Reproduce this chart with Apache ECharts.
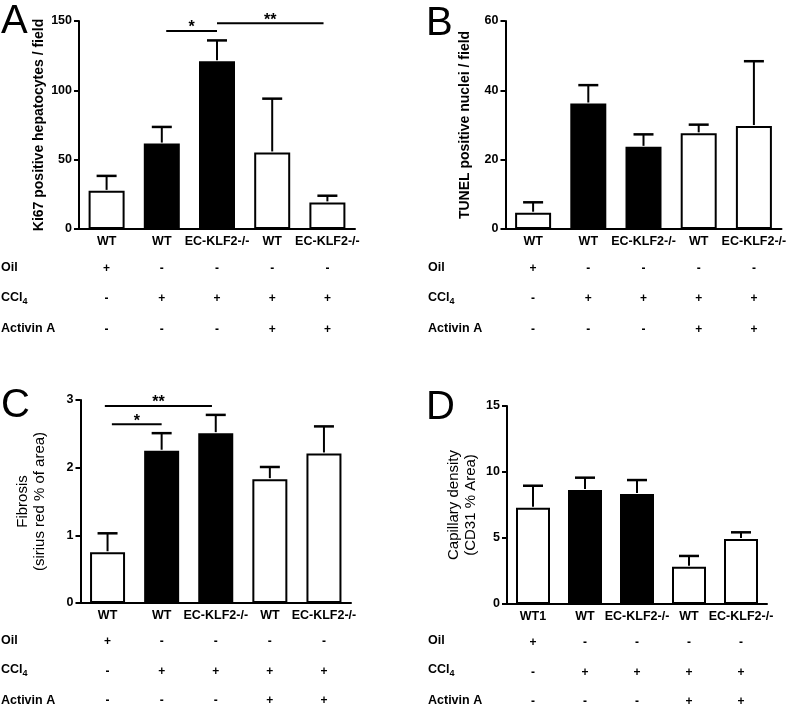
<!DOCTYPE html>
<html><head><meta charset="utf-8">
<script src="https://cdn.jsdelivr.net/npm/echarts@6/dist/echarts.min.js"></script>
<style>html,body{margin:0;padding:0;background:#fff}#c{width:796px;height:711px}</style>
</head><body><div id="c"></div>
<script>
// ---- data ----
const catsABC = ['WT', 'WT', 'EC-KLF2-/-', 'WT', 'EC-KLF2-/-'];
const catsD = ['WT1', 'WT', 'EC-KLF2-/-', 'WT', 'EC-KLF2-/-'];
const rowNames = ['Oil', 'CCl4', 'Activin A'];
const oilRow = ['+', '-', '-', '-', '-'];
const cclRow = ['-', '+', '+', '+', '+'];
const actRow = ['-', '-', '-', '+', '+'];
const ki67Mean = [27.5, 61.6, 121, 55.2, 19.2];
const ki67Err = [10.8, 12, 15, 38.8, 4.8];
const tunelMean = [4.7, 36.2, 23.7, 27.6, 29.7];
const tunelErr = [3.0, 5.3, 3.6, 2.5, 18.7];
const fibMean = [0.75, 2.25, 2.51, 1.83, 2.21];
const fibErr = [0.28, 0.26, 0.27, 0.18, 0.40];
const capMean = [7.3, 8.64, 8.33, 2.83, 4.92];
const capErr = [1.66, 0.93, 1.06, 0.81, 0.51];
// significance brackets: [from category position, to category position, y value, mark]
const sigA = [[1.08, 2.0, 142.8, '*'], [2.0, 3.93, 148.3, '**']];
const sigC = [[-0.05, 1.93, 2.91, '**'], [0.08, 1.0, 2.64, '*']];

// ---- styling ----
const FONT = '"Liberation Sans", Arial, Helvetica, sans-serif';
const fills = ['#ffffff', '#000000', '#000000', '#ffffff', '#ffffff'];

const panels = [
  { letter: 'A', lx: 1, ly: 2, cats: catsABC, mean: ki67Mean, err: ki67Err, sig: sigA,
    grid: { left: 79, top: 21, width: 276, height: 208 }, max: 150, interval: 50,
    name: 'Ki67 positive hepatocytes / field', nameWeight: 'bold', nameSize: 14, nameLH: 16, nameGap: 31,
    barWidth: 36, rowLH: 30.5, rowX: 1, rowY: [268, 298, 329] },
  { letter: 'B', lx: 426, ly: 4, cats: catsABC, mean: tunelMean, err: tunelErr, sig: [],
    grid: { left: 505.5, top: 21, width: 276, height: 208 }, max: 60, interval: 20,
    name: 'TUNEL positive nuclei / field', nameWeight: 'bold', nameSize: 14, nameLH: 16, nameGap: 32,
    barWidth: 36, rowLH: 30.5, rowX: 428, rowY: [268, 298, 329] },
  { letter: 'C', lx: 1, ly: 386, cats: catsABC, mean: fibMean, err: fibErr, sig: sigC,
    grid: { left: 80.5, top: 400, width: 270.5, height: 203 }, max: 3, interval: 1,
    name: 'Fibrosis\n(sirius red % of area)', nameWeight: 'normal', nameSize: 15, nameLH: 17, nameGap: 32,
    barWidth: 35, rowLH: 29.5, rowX: 1, rowY: [641, 670, 701] },
  { letter: 'D', lx: 426, ly: 388, cats: catsD, mean: capMean, err: capErr, sig: [],
    grid: { left: 507, top: 406, width: 260, height: 198 }, max: 15, interval: 5,
    name: 'Capillary density\n(CD31 % Area)', nameWeight: 'normal', nameSize: 15, nameLH: 17, nameGap: 28,
    barWidth: 34, rowLH: 29.5, rowX: 428, rowY: [641, 670, 701] }
];

const grids = [], xAxes = [], yAxes = [], series = [], graphics = [];

panels.forEach((p, k) => {
  grids.push(Object.assign({ containLabel: false }, p.grid));
  xAxes.push({
    type: 'category', gridIndex: k, data: p.cats,
    axisLine: { lineStyle: { color: '#000', width: 2 } },
    axisTick: { show: false },
    axisLabel: {
      interval: 0, hideOverlap: false, margin: 2, color: '#000',
      formatter: (v, i) => `{n|${v}}\n{s|${oilRow[i]}}\n{s|${cclRow[i]}}\n{s|${actRow[i]}}`,
      rich: {
        n: { fontFamily: FONT, fontSize: 12.5, fontWeight: 'bold', lineHeight: 22, color: '#000' },
        s: { fontFamily: FONT, fontSize: 12, fontWeight: 'bold', lineHeight: p.rowLH, color: '#000' }
      }
    }
  });
  yAxes.push({
    type: 'value', gridIndex: k, min: 0, max: p.max, interval: p.interval,
    axisLine: { show: true, lineStyle: { color: '#000', width: 2 } },
    axisTick: { show: true, length: 5, lineStyle: { color: '#000', width: 2 } },
    splitLine: { show: false },
    axisLabel: { fontFamily: FONT, fontSize: 12.5, fontWeight: 'bold', color: '#000', margin: 7 },
    name: p.name, nameLocation: 'middle', nameGap: p.nameGap,
    nameTextStyle: { fontFamily: FONT, fontSize: p.nameSize, fontWeight: p.nameWeight, color: '#000', lineHeight: p.nameLH }
  });
  series.push({
    type: 'bar', xAxisIndex: k, yAxisIndex: k, barWidth: p.barWidth, z: 2,
    data: p.mean.map((m, j) => ({ value: m, itemStyle: { color: fills[j], borderColor: '#000', borderWidth: 2 } })),
    emphasis: { disabled: true }, animation: false
  });
  series.push({
    type: 'custom', xAxisIndex: k, yAxisIndex: k, z: 3, animation: false,
    data: p.mean.map((m, j) => [j, m, m + p.err[j]]),
    encode: { x: 0, y: [1, 2] },
    renderItem: (params, api) => {
      const x = api.value(0);
      const p0 = api.coord([x, api.value(1)]);
      const p1 = api.coord([x, api.value(2)]);
      return { type: 'group', children: [
        { type: 'line', shape: { x1: p0[0], y1: p0[1] - 1, x2: p1[0], y2: p1[1] }, style: { stroke: '#000', lineWidth: 2 } },
        { type: 'line', shape: { x1: p1[0] - 10, y1: p1[1], x2: p1[0] + 10, y2: p1[1] }, style: { stroke: '#000', lineWidth: 2.5 } }
      ] };
    }
  });
  if (p.sig.length) {
    const sig = p.sig;
    series.push({
      type: 'custom', xAxisIndex: k, yAxisIndex: k, z: 3, animation: false,
      data: sig.map(s => [0, s[2], s[0], s[1]]),
      encode: { x: 0, y: 1 },
      renderItem: (params, api) => {
        const base = api.coord([0, api.value(1)]);
        const band = api.size([1, 0])[0];
        const x1 = base[0] + api.value(2) * band;
        const x2 = base[0] + api.value(3) * band;
        const y = base[1];
        return { type: 'group', children: [
          { type: 'line', shape: { x1: x1, y1: y, x2: x2, y2: y }, style: { stroke: '#000', lineWidth: 2 } },
          { type: 'text', x: (x1 + x2) / 2, y: y - 3, style: { text: sig[params.dataIndex][3], fontFamily: FONT, fontSize: 16, fontWeight: 'bold', fill: '#000', align: 'center', verticalAlign: 'middle' } }
        ] };
      }
    });
  }
  graphics.push({ type: 'text', x: p.lx, y: p.ly, style: { text: p.letter, fontFamily: FONT, fontSize: 40, fontWeight: 'normal', fill: '#000' } });
  rowNames.forEach((r, ri) => {
    if (r === 'CCl4') {
      graphics.push({ type: 'text', x: p.rowX, y: p.rowY[ri] - 8, style: {
        text: '{b|CCl}{sub|4}', fill: '#000',
        rich: {
          b: { fontFamily: FONT, fontSize: 12.5, fontWeight: 'bold', lineHeight: 16, fill: '#000' },
          sub: { fontFamily: FONT, fontSize: 9, fontWeight: 'bold', lineHeight: 16, verticalAlign: 'bottom', fill: '#000' }
        } } });
    } else {
      graphics.push({ type: 'text', x: p.rowX, y: p.rowY[ri], style: { text: r, fontFamily: FONT, fontSize: 12.5, fontWeight: 'bold', fill: '#000', verticalAlign: 'middle' } });
    }
  });
});

const chart = echarts.init(document.getElementById('c'), null, { renderer: 'canvas' });
chart.setOption({
  animation: false,
  backgroundColor: '#fff',
  grid: grids, xAxis: xAxes, yAxis: yAxes, series: series,
  graphic: { elements: graphics }
});
</script>
</body></html>
